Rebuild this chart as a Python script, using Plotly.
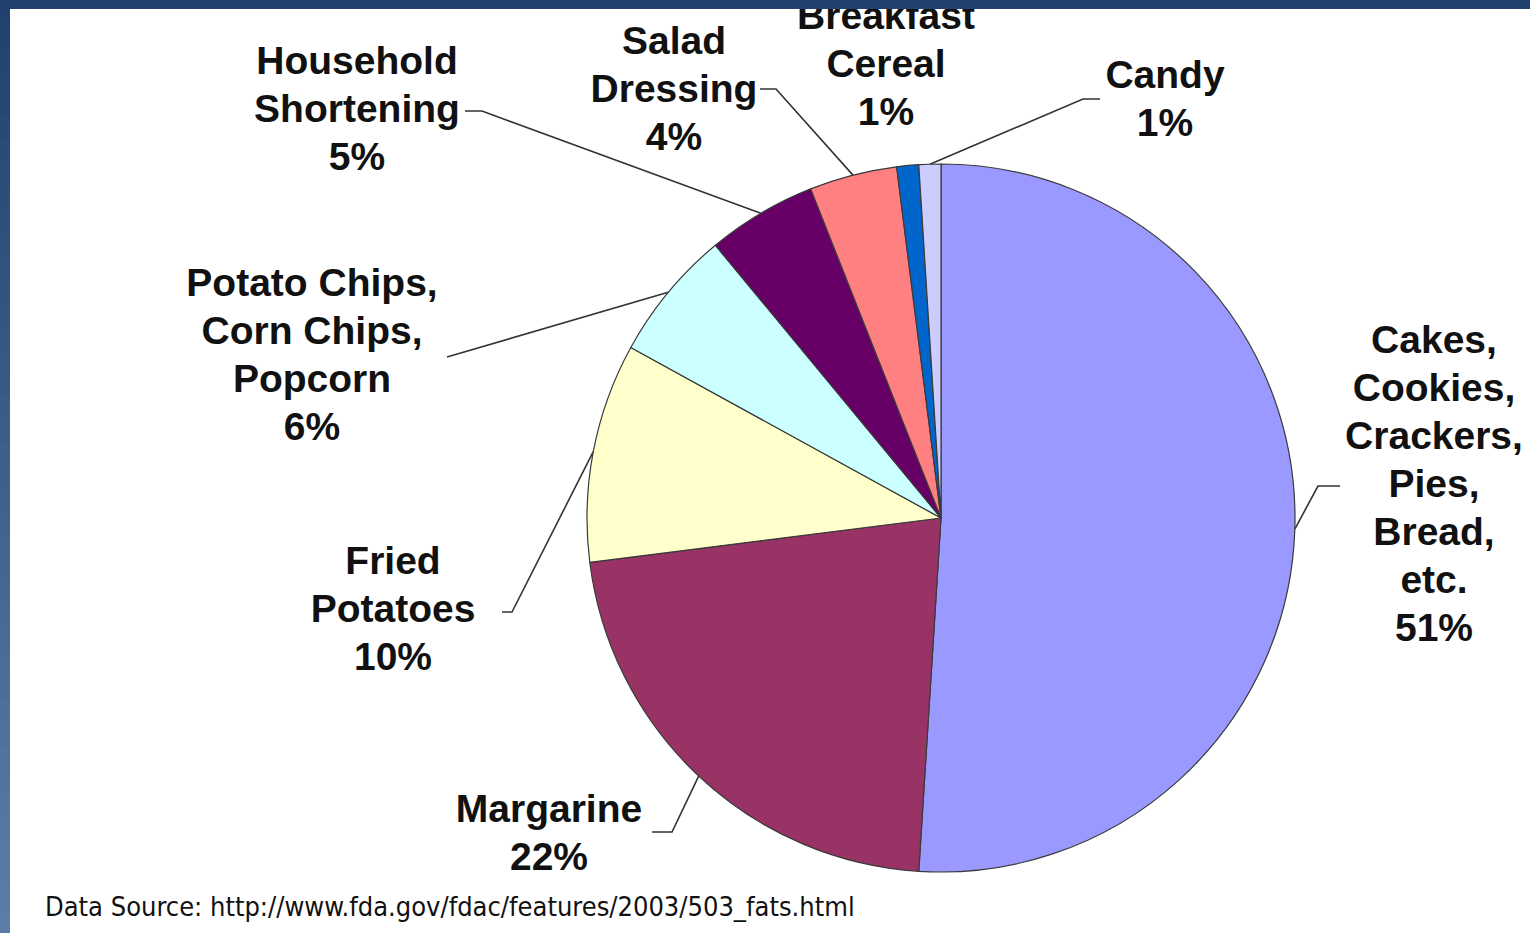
import numpy as np
import plotly.graph_objects as go

# Sources of trans fat in the American diet (percent of intake)
categories = [
    "Cakes, Cookies, Crackers, Pies, Bread, etc.",
    "Margarine",
    "Fried Potatoes",
    "Potato Chips, Corn Chips, Popcorn",
    "Household Shortening",
    "Salad Dressing",
    "Breakfast Cereal",
    "Candy",
]
values = [51, 22, 10, 6, 5, 4, 1, 1]
colors = ["#9999FF", "#993366", "#FFFFCC", "#CCFFFF", "#660066", "#FF8080", "#0066CC", "#CCCCFF"]

# label text split into lines
label_lines = [
    ["Cakes,", "Cookies,", "Crackers,", "Pies,", "Bread,", "etc."],
    ["Margarine"],
    ["Fried", "Potatoes"],
    ["Potato Chips,", "Corn Chips,", "Popcorn"],
    ["Household", "Shortening"],
    ["Salad", "Dressing"],
    ["Breakfast", "Cereal"],
    ["Candy"],
]
source_text = "Data Source: http://www.fda.gov/fdac/features/2003/503_fats.html"

W, H = 1530, 933
CX, CY, R = 941, 518, 354          # pie centre / radius in pixels
LINE_H = 48                        # label line pitch in pixels

# label block centres (pixels) and leader-line anchor points on the label side
label_pos = [(1434, 487), (549, 836), (393, 612), (312, 358), (357, 112), (674, 92), (886, 67), (1165, 102)]
leader_start = [[(1340, 486), (1318, 486)],
                [(652, 832), (672, 832)],
                [(502, 612), (512, 612)],
                [(447, 357)],
                [(465, 111), (482, 111)],
                [(760, 89), (776, 89)],
                None,
                [(1100, 99), (1083, 99)]]

fig = go.Figure()

# leader lines: from the label anchor to the outer edge of each slice at its mid-angle
leader_x, leader_y = [], []
total = float(sum(values))
cum = 0.0
for i, v in enumerate(values):
    mid = (cum + v / 2.0) / total * 2 * np.pi
    cum += v
    ex = CX + R * np.sin(mid)
    ey = CY - R * np.cos(mid)
    pts = leader_start[i]
    if pts is None:
        continue
    for (px, py) in pts:
        leader_x.append(px)
        leader_y.append(py)
    leader_x += [ex, None]
    leader_y += [ey, None]

fig.add_trace(go.Scatter(x=leader_x, y=leader_y, mode="lines",
                         line=dict(color="#333333", width=1.6),
                         hoverinfo="skip", showlegend=False))

fig.add_trace(go.Pie(
    labels=categories, values=values, sort=False, direction="clockwise", rotation=0,
    marker=dict(colors=colors, line=dict(color="#3a3a3a", width=1.2)),
    textinfo="none", hoverinfo="label+percent", showlegend=False,
    domain=dict(x=[(CX - R) / W, (CX + R) / W], y=[(H - CY - R) / H, (H - CY + R) / H]),
))

# labels: one text mark per line, percentage as the last line
tx, ty, tt = [], [], []
for i, lines in enumerate(label_lines):
    all_lines = lines + [f"{values[i]}%"]
    n = len(all_lines)
    cx, cy = label_pos[i]
    for k, s in enumerate(all_lines):
        tx.append(cx)
        ty.append(cy + (k - (n - 1) / 2.0) * LINE_H)
        tt.append(s)

fig.add_trace(go.Scatter(x=tx, y=ty, text=tt, mode="text", textposition="middle center",
                         textfont=dict(family="Liberation Sans, Arial, sans-serif", size=39,
                                       color="#111111", weight="bold"),
                         hoverinfo="skip", showlegend=False))

fig.add_trace(go.Scatter(x=[45], y=[909], text=[source_text], mode="text", textposition="middle right",
                         textfont=dict(family="Liberation Sans Narrow, DejaVu Sans Condensed, Arial Narrow, sans-serif",
                                       size=27, color="#111111"),
                         hoverinfo="skip", showlegend=False))

# window frame: dark blue top bar and a shaded left bar
shapes = []
top_c = np.array([0x22, 0x41, 0x6F])
bot_c = np.array([0x5D, 0x7F, 0xA7])
nb = 40
for b in range(nb):
    t = (b + 0.5) / nb
    c = (top_c + (bot_c - top_c) * t).astype(int)
    shapes.append(dict(type="rect", xref="paper", yref="paper", x0=0, x1=10 / W,
                       y0=max(0.0, 1 - (b + 1) / nb - 2 / H), y1=1 - b / nb,
                       fillcolor="rgb(%d,%d,%d)" % tuple(c), line=dict(width=0), layer="above"))
shapes.append(dict(type="rect", xref="paper", yref="paper", x0=0, x1=1, y0=1 - 9 / H, y1=1,
                   fillcolor="#22416F", line=dict(width=0), layer="above"))

fig.update_layout(
    width=W, height=H, margin=dict(l=0, r=0, t=0, b=0),
    paper_bgcolor="white", plot_bgcolor="white",
    xaxis=dict(range=[0, W], visible=False, fixedrange=True),
    yaxis=dict(range=[H, 0], visible=False, fixedrange=True),
    shapes=shapes,
)

fig.write_html("out.html")
